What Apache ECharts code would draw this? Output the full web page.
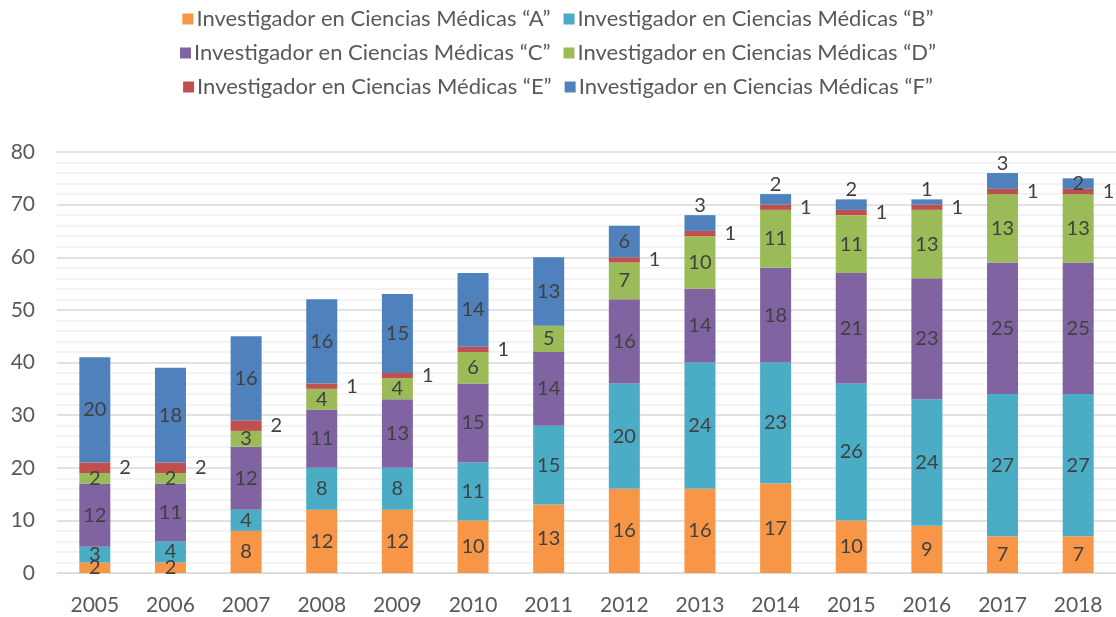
<!DOCTYPE html>
<html>
<head>
<meta charset="utf-8">
<script src="https://cdn.jsdelivr.net/npm/echarts@6/dist/echarts.min.js"></script>
<style>
  html, body { margin: 0; padding: 0; background: #fff; }
  #chart { width: 1116px; height: 617px; }
</style>
</head>
<body>
<div id="chart"></div>
<script>
const years = ['2005', '2006', '2007', '2008', '2009', '2010', '2011', '2012', '2013', '2014', '2015', '2016', '2017', '2018'];
const seriesNames = [
  'Investigador en Ciencias Médicas “A”',
  'Investigador en Ciencias Médicas “B”',
  'Investigador en Ciencias Médicas “C”',
  'Investigador en Ciencias Médicas “D”',
  'Investigador en Ciencias Médicas “E”',
  'Investigador en Ciencias Médicas “F”'
];
const valuesA = [2, 2, 8, 12, 12, 10, 13, 16, 16, 17, 10, 9, 7, 7];
const valuesB = [3, 4, 4, 8, 8, 11, 15, 20, 24, 23, 26, 24, 27, 27];
const valuesC = [12, 11, 12, 11, 13, 15, 14, 16, 14, 18, 21, 23, 25, 25];
const valuesD = [2, 2, 3, 4, 4, 6, 5, 7, 10, 11, 11, 13, 13, 13];
const valuesE = [2, 2, 2, 1, 1, 1, 0, 1, 1, 1, 1, 1, 1, 1];
const valuesF = [20, 18, 16, 16, 15, 14, 13, 6, 3, 2, 2, 1, 3, 2];
// years where the small "F" label sits on top of the bar
const fLabelAbove = ['2013', '2014', '2015', '2016', '2017'];

const colors = ['#F79646', '#4BACC6', '#8064A2', '#9BBB59', '#C0504D', '#4F81BD'];
const font = 'Lato, "Open Sans", sans-serif';
const allValues = [valuesA, valuesB, valuesC, valuesD, valuesE, valuesF];

const chart = echarts.init(document.getElementById('chart'), null, { renderer: 'canvas' });

const series = allValues.map((vals, i) => {
  let data = vals;
  if (i === 5) {
    data = vals.map((v, k) => fLabelAbove.includes(years[k])
      ? { value: v, label: { position: 'top', distance: 0 } }
      : v);
  }
  return {
    name: seriesNames[i],
    type: 'bar',
    stack: 'total',
    barWidth: 31,
    data: data,
    itemStyle: { color: colors[i] },
    label: {
      show: true,
      position: i === 4 ? 'right' : 'inside',
      distance: 9,
      color: '#404040',
      fontSize: 20,
      fontFamily: font,
      formatter: p => (p.value ? p.value : '')
    }
  };
});

const legendBase = {
  left: 'center',
  itemWidth: 11,
  itemHeight: 11,
  itemGap: 13,
  icon: 'rect',
  textStyle: { fontSize: 22, color: '#595959', fontFamily: font, padding: [0, 0, 0, -2] }
};

chart.setOption({
  animation: false,
  backgroundColor: '#fff',
  legend: [
    Object.assign({ top: 3, data: seriesNames.slice(0, 2) }, legendBase),
    Object.assign({ top: 37, data: seriesNames.slice(2, 4) }, legendBase),
    Object.assign({ top: 71, data: seriesNames.slice(4, 6) }, legendBase)
  ],
  grid: { left: 57, right: 0, top: 152, bottom: 44, containLabel: false },
  xAxis: {
    type: 'category',
    data: years,
    axisTick: { show: false },
    axisLine: { lineStyle: { color: '#D9D9D9' } },
    axisLabel: { fontSize: 21, color: '#595959', fontFamily: font, margin: 22 }
  },
  yAxis: {
    type: 'value',
    min: 0,
    max: 80,
    interval: 10,
    axisLabel: { fontSize: 21, color: '#595959', fontFamily: font, margin: 22 },
    splitLine: { lineStyle: { color: '#D9D9D9', width: 1.5 } },
    minorTick: { show: false, splitNumber: 5 },
    minorSplitLine: { show: true, lineStyle: { color: '#EFEFEF', width: 1.5 } }
  },
  series: series
});
</script>
</body>
</html>
